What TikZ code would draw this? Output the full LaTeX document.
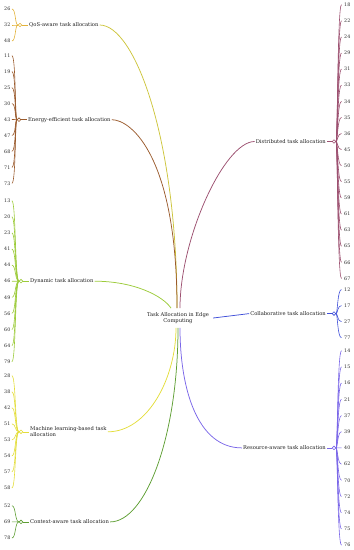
\documentclass[tikz,border=0pt]{standalone}
\usepackage{fontspec}
\setmainfont{DejaVu Serif}
\usepackage{xcolor}
\definecolor{cqos}{HTML}{E2B23A}
\definecolor{cqosb}{HTML}{CDC53C}
\definecolor{cene}{HTML}{9A5A2C}
\definecolor{cdyn}{HTML}{9CCB3A}
\definecolor{cml}{HTML}{E3DD3A}
\definecolor{cctx}{HTML}{5E9E33}
\definecolor{cdis}{HTML}{9C5070}
\definecolor{ccol}{HTML}{3F4ED8}
\definecolor{cres}{HTML}{7A66E8}
\begin{document}
\begin{tikzpicture}[x=1pt,y=-1pt,
  lbl/.style={font=\fontsize{5.2}{6.3}\selectfont, text=black!88, inner sep=1pt},
  num/.style={font=\fontsize{4.8}{5.5}\selectfont, text=black!82, inner xsep=0.5pt, inner ysep=0.5pt, text width=7pt, align=left},
  rnum/.style={font=\fontsize{4.8}{5.5}\selectfont, text=black!82, inner xsep=2.5pt, inner ysep=0.5pt, text width=7pt, align=left},
  hub/.style={circle, draw=#1, fill=white, line width=0.6pt, inner sep=0pt, minimum size=3.6pt},
  br/.style={draw=#1, line width=0.75pt},
  lk/.style={draw=#1, line width=0.6pt}]
\useasboundingbox (0,0) rectangle (354,550);

% root
\node[lbl, align=center, inner sep=4pt] (root) at (178,318) {Task Allocation in Edge\\Computing};

% left labels
\node[lbl, anchor=west] (qos) at (28,25) {QoS-aware task allocation};
\node[lbl, anchor=west] (ene) at (27,119.7) {Energy-efficient task allocation};
\node[lbl, anchor=west] (dyn) at (29,281.2) {Dynamic task allocation};
\node[lbl, anchor=west, align=left] (ml) at (29,431.8) {Machine learning-based task\\allocation};
\node[lbl, anchor=west] (ctx) at (29,521.9) {Context-aware task allocation};

% right labels
\node[lbl, anchor=east] (dis) at (327,141.5) {Distributed task allocation};
\node[lbl, anchor=east] (col) at (327,313.6) {Collaborative task allocation};
\node[lbl, anchor=east] (res) at (327,447.9) {Resource-aware task allocation};

% branch curves
\draw[br=cqosb] (qos.east) .. controls +(35,0) and +(0,-170) .. ([xshift=-1pt]root.north);
\draw[br=cene] (ene.east) .. controls +(20,0) and +(0,-150) .. ([xshift=-1pt]root.north);
\draw[br=cdyn] (dyn.east) .. controls +(40,0) and +(-8,-12) .. ([xshift=-7pt]root.north);
\draw[br=cdis] (dis.west) .. controls +(-30,0) and +(0,-70) .. ([xshift=2pt]root.north);
\draw[br=cml] (ml.east) .. controls +(40,0) and +(0,50) .. ([xshift=-2pt]root.south);
\draw[br=cctx] (ctx.east) .. controls +(35,0) and +(0,110) .. (root.south);
\draw[br=cres] (res.west) .. controls +(-45,0) and +(0,60) .. ([xshift=2pt]root.south);
\draw[br=ccol] (root.east) -- (col.west);

% hubs
\node[hub=cqos] (hq) at (20,25) {};
\node[hub=cene] (he) at (19,119.7) {};
\node[hub=cdyn] (hd) at (21,281.2) {};
\node[hub=cml] (hm) at (21,431.8) {};
\node[hub=cctx] (hc) at (21,521.9) {};
\node[hub=cdis] (hdi) at (334,141.5) {};
\node[hub=ccol] (hco) at (334,313.6) {};
\node[hub=cres] (hr) at (334,447.9) {};

\draw[lk=cqos] (hq) -- (qos);
\draw[lk=cene] (he) -- (ene);
\draw[lk=cdyn] (hd) -- (dyn);
\draw[lk=cml] (hm) -- (ml);
\draw[lk=cctx] (hc) -- (ctx);
\draw[lk=cdis] (hdi) -- (dis);
\draw[lk=ccol] (hco) -- (col);
\draw[lk=cres] (hr) -- (res);

% left leaves
\foreach \t [count=\i from 0] in {26,32,48} {
  \node[num, anchor=west] (lq\i) at (3.5, 9+16*\i) {\t};
  \draw[lk=cqos] (hq.west) .. controls +(-3,0) and +(4,0) .. (lq\i.east);
}
\foreach \t [count=\i from 0] in {11,19,25,30,43,47,68,71,73} {
  \node[num, anchor=west] (le\i) at (3.5, 55.7+15.95*\i) {\t};
  \draw[lk=cene] (he.west) .. controls +(-2,0) and +(4,0) .. (le\i.east);
}
\foreach \t [count=\i from 0] in {13,20,23,41,44,46,49,56,60,64,79} {
  \node[num, anchor=west] (ld\i) at (3.5, 200.7+16.1*\i) {\t};
  \draw[lk=cdyn] (hd.west) .. controls +(-4,0) and +(4,0) .. (ld\i.east);
}
\foreach \t [count=\i from 0] in {28,38,42,51,53,54,57,58} {
  \node[num, anchor=west] (lm\i) at (3.5, 375.7+16.04*\i) {\t};
  \draw[lk=cml] (hm.west) .. controls +(-4,0) and +(4,0) .. (lm\i.east);
}
\foreach \t [count=\i from 0] in {52,69,78} {
  \node[num, anchor=west] (lc\i) at (3.5, 505.7+16.15*\i) {\t};
  \draw[lk=cctx] (hc.west) .. controls +(-4,0) and +(4,0) .. (lc\i.east);
}

% right leaves
\foreach \t [count=\i from 0] in {18,22,24,29,31,33,34,35,36,45,50,55,59,61,63,65,66,67} {
  \node[rnum, anchor=west] (ri\i) at (341.5, 4.7+16.1*\i) {\t};
  \draw[lk=cdis] (hdi.east) .. controls +(1.5,0) and +(-4,0) .. (ri\i.west);
}
\foreach \t [count=\i from 0] in {12,17,27,77} {
  \node[rnum, anchor=west] (rc\i) at (341.5, 289.5+16.07*\i) {\t};
  \draw[lk=ccol] (hco.east) .. controls +(1.5,0) and +(-4,0) .. (rc\i.west);
}
\foreach \t [count=\i from 0] in {14,15,16,21,37,39,40,62,70,72,74,75,76} {
  \node[rnum, anchor=west] (rr\i) at (341.5, 350.7+16.2*\i) {\t};
  \draw[lk=cres] (hr.east) .. controls +(1.5,0) and +(-4,0) .. (rr\i.west);
}
\end{tikzpicture}
\end{document}
